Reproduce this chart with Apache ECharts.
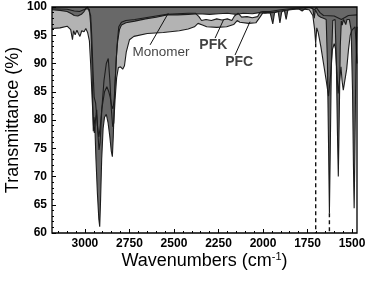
<!DOCTYPE html>
<html><head><meta charset="utf-8">
<script src="https://cdn.jsdelivr.net/npm/echarts@6/dist/echarts.min.js"></script>
<style>html,body{margin:0;padding:0;background:#fff}#c{width:374px;height:281px}</style>
</head><body><div id="c"></div>
<script>
// axis ranges / ticks
const xMin = 1472, xMax = 3185;
const majorTicks = [1500, 1750, 2000, 2250, 2500, 2750, 3000];
const yMin = 60, yMax = 100, yStep = 5;

// Monomer-like curve (dark fill)
const curveAWn = [3185,3140,3100,3075,3060,3040,3020,3005,2995,2985,2975,2968,2962,2957,2953,2950,2945,2938,2930,2922,2917,2912,2906,2898,2890,2880,2870,2860,2852,2846,2841,2836,2830,2824,2816,2806,2795,2770,2720,2660,2600,2540,2480,2420,2360,2300,2250,2200,2150,2110,2060,2020,1990,1960,1945,1935,1915,1905,1895,1880,1870,1860,1840,1800,1780,1760,1735,1720,1712,1706,1698,1690,1675,1660,1645,1638,1632,1627,1622,1616,1608,1595,1588,1582,1577,1572,1566,1560,1555,1548,1535,1528,1515,1505,1497,1492,1488,1484,1479,1474,1472];
const curveAT  = [99.5,99.4,99.2,98.8,98.5,98.4,98.7,99.2,99.7,99.9,99.6,97,92,84,78,80.5,79.5,73,67,62.5,61.1,66,73,78.5,80.5,81,79.5,77,74.5,73.5,77,82,87,91,94,96,96.8,97.2,97.5,97.9,98.2,98.6,98.6,98.7,98.8,98.7,98.8,98.9,98.7,98.9,98.8,99.0,98.9,99.0,97.0,99.0,99.2,97.2,99.1,99.4,97.8,99.5,99.6,99.7,99.3,99.8,99.9,99.7,98.0,99.5,99.8,98.5,98.2,98.0,97.8,90,76,63.5,75,90,97.6,97.8,90,78,70,80,93,97.5,96.8,97.8,96.9,97.8,97.8,96,85,72,64.4,74,88,95,96.5];

// lower curve (light-grey fill)
const curveBWn = [3185,3140,3100,3080,3070,3064,3055,3045,3037,3028,3018,3005,2995,2985,2975,2968,2960,2952,2947,2941,2934,2928,2921,2915,2905,2893,2880,2869,2860,2852,2844,2838,2831,2822,2812,2800,2788,2778,2768,2750,2725,2650,2560,2470,2420,2385,2365,2340,2316,2260,2204,2165,2145,2130,2080,2040,2017,2000,1950,1900,1800,1740,1720,1710,1704,1698,1690,1675,1660,1645,1632,1620,1610,1600,1593,1586,1578,1570,1562,1556,1549,1540,1530,1520,1510,1500,1490,1483,1478,1472];
const curveBT  = [96.2,96.3,96.6,96.0,94.2,95.8,95.1,95.9,95.3,94.8,95.8,95.6,96.2,95.5,94.0,90,84,79,77.7,80,81.8,78,74.7,76,82,87,90,90.9,87,82,78.8,79.5,83.5,87.5,89.3,89.4,89.0,89.6,92,94.2,94.8,95.3,95.5,95.8,96.1,96.5,97.1,96.8,96.5,96.4,96.5,96.9,97.6,97.3,97.1,97.2,98.2,99.0,99.0,99.3,99.7,99.5,98.5,96,93.6,96.3,95.5,93,90,87,84.2,88,92.5,93.5,92.7,89,84.7,87,89.4,87,85.3,85.6,89,92.4,95,95.9,96.2,96.5,94,90];

// middle curve (white fill)
const curveCWn = [3185,3100,3060,3030,3000,2985,2975,2968,2962,2955,2948,2940,2930,2922,2915,2905,2890,2877,2866,2858,2850,2843,2836,2828,2820,2810,2795,2770,2720,2660,2600,2540,2480,2420,2380,2360,2345,2320,2290,2260,2230,2200,2175,2160,2140,2120,2090,2060,2030,2015,2000,1960,1900,1850,1800,1740,1725,1712,1700,1690,1680,1660,1600,1560,1520,1472];
const curveCT  = [99.7,99.6,99.3,99.2,99.6,100,99.8,98.5,95,89,84,83,79,77,78.5,82,85,85.9,85,84,82.5,82,83.5,88,93,96.5,97.3,97.6,97.8,98.1,98.4,98.7,98.8,98.9,98.9,98.3,97.6,97.8,97.6,97.9,97.7,97.9,97.6,98.4,98.9,98.2,98.3,98.1,98.3,99.1,99.2,99.2,99.5,99.7,99.8,99.9,99.8,99.5,99.9,100,99.0,98.5,98.4,97.8,98.5,98.6];

// dashed marker lines (peak positions)
const dashWn  = [1704, 1627];
const dashTop = [93.6, 63.5];

// annotations
const labelText = ['Monomer', 'PFK', 'PFC'];
const labelWn   = [2573, 2279, 2134];
const labelT    = [92.0, 93.3, 90.3];
const leaderFromWn = [2634, 2269, 2157];
const leaderFromT  = [93.3, 94.5, 91.5];
const leaderToWn   = [2532, 2222, 2073];
const leaderToT    = [98.9, 97.7, 97.4];

const minorTicks = [];
for (let v = 1500; v <= 3150; v += 50) if (v % 250 !== 0) minorTicks.push(v);

const pairs = (xs, ys) => xs.map((x, i) => [x, ys[i]]);
const FONT = 'Liberation Sans, Arial, sans-serif';
const LINE = '#1c1c1c';

const areaSeries = (xs, ys, color) => ({
  type: 'line', data: pairs(xs, ys), symbol: 'none', silent: true,
  lineStyle: { width: 0 }, areaStyle: { color: color, opacity: 1, origin: 'end' }, z: 1
});
const lineSeries = (xs, ys) => ({
  type: 'line', data: pairs(xs, ys), symbol: 'none', silent: true,
  lineStyle: { width: 1.1, color: LINE }, z: 3
});

const series = [
  areaSeries(curveBWn, curveBT, '#b3b3b3'),
  areaSeries(curveCWn, curveCT, '#ffffff'),
  areaSeries(curveAWn, curveAT, '#686868'),
  lineSeries(curveBWn, curveBT),
  lineSeries(curveCWn, curveCT),
  lineSeries(curveAWn, curveAT)
];
dashWn.forEach((w, i) => series.push({
  type: 'line', data: [[w, dashTop[i]], [w, yMin]], symbol: 'none', silent: true,
  lineStyle: { width: 1.4, color: '#111', type: [4, 3] }, z: 4
}));
labelText.forEach((t, i) => series.push({
  type: 'line', data: [[leaderFromWn[i], leaderFromT[i]], [leaderToWn[i], leaderToT[i]]],
  symbol: 'none', silent: true, lineStyle: { width: 1, color: '#111' }, z: 4
}));
series.push({
  type: 'scatter', symbolSize: 0, silent: true, z: 5,
  data: labelText.map((t, i) => ({
    value: [labelWn[i], labelT[i]], name: t,
    label: { fontWeight: i === 0 ? 'normal' : 'bold', fontSize: i === 0 ? 13.5 : 14 }
  })),
  label: {
    show: true, position: 'inside', formatter: p => p.name,
    fontFamily: FONT, color: '#111', fontSize: 13.5
  }
});

const chart = echarts.init(document.getElementById('c'), null, { renderer: 'canvas' });
chart.setOption({
  animation: false,
  backgroundColor: '#fff',
  grid: { left: 52, right: 17, top: 7, bottom: 48, show: true, z: 10, outerBoundsMode: 'none', containLabel: false,
          borderColor: '#000', borderWidth: 1.3, backgroundColor: 'transparent' },
  xAxis: [{
    type: 'value', min: xMin, max: xMax, inverse: true, position: 'bottom', z: 10,
    axisLine: { show: false },
    axisTick: { show: true, inside: true, length: 4, customValues: majorTicks, lineStyle: { color: '#000', width: 1 } },
    axisLabel: { show: true, customValues: majorTicks, formatter: v => String(v), fontFamily: FONT, fontWeight: 'bold', fontSize: 12, color: '#000', margin: 5 },
    splitLine: { show: false },
    name: '{a|Wavenumbers (cm}{s|-1}{a|)}', nameLocation: 'middle', nameGap: 18, nameMoveOverlap: false,
    nameTextStyle: { rich: {
      a: { fontFamily: FONT, fontSize: 18, color: '#000', lineHeight: 20 },
      s: { fontFamily: FONT, fontSize: 11, color: '#000', verticalAlign: 'top', lineHeight: 20 }
    } }
  }, {
    type: 'value', min: xMin, max: xMax, inverse: true, position: 'top', offset: -226, z: 10,
    axisLine: { show: false },
    axisTick: { show: true, inside: false, length: 2, customValues: minorTicks, lineStyle: { color: '#000', width: 1 } },
    axisLabel: { show: false }, splitLine: { show: false }
  }],
  yAxis: [{
    type: 'value', min: yMin, max: yMax, interval: yStep, position: 'left', z: 10,
    axisLine: { show: false },
    axisTick: { show: true, inside: true, length: 4, lineStyle: { color: '#000', width: 1 } },
    minorTick: { show: true, splitNumber: 5, length: 2, lineStyle: { color: '#000', width: 1 } },
    axisLabel: { fontFamily: FONT, fontWeight: 'bold', fontSize: 12, color: '#000', margin: 5 },
    splitLine: { show: false },
    name: 'Transmittance (%)', nameLocation: 'middle', nameGap: 30, nameMoveOverlap: false,
    nameTextStyle: { fontFamily: FONT, fontSize: 18, color: '#000' }
  }],
  series: series
});
</script></body></html>
